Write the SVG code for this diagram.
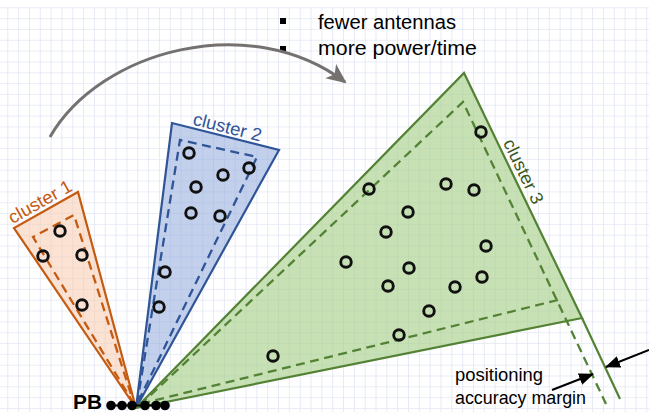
<svg xmlns="http://www.w3.org/2000/svg" width="649" height="412" viewBox="0 0 649 412">
<defs>
<pattern id="grid" patternUnits="userSpaceOnUse" x="7.3" y="7.3" width="10.83" height="10.83">
<path d="M0,0 H10.83 M0,0 V10.83" fill="none" stroke="#e3e7f5" stroke-width="1.7"/>
</pattern>
<marker id="grayhead" markerUnits="userSpaceOnUse" markerWidth="24" markerHeight="24" refX="18" refY="10" orient="auto" viewBox="0 0 24 20">
<path d="M0,1 L20,10 L0,19 L5,10 Z" fill="#767171"/>
</marker>
<marker id="blackhead" markerUnits="userSpaceOnUse" markerWidth="16" markerHeight="12" refX="14" refY="6" orient="auto" viewBox="0 0 16 12">
<path d="M0,0 L15,6 L0,12 Z" fill="#000"/>
</marker>
</defs>
<style>
.txt{font-family:"Liberation Sans",Arial,sans-serif;}
.pt{fill:none;stroke:#111;stroke-width:2.9;}
.dash{fill:none;stroke-width:2.3;stroke-dasharray:9 5.5;}
.c1{fill:#f8cbad;fill-opacity:0.55;stroke:#c55a11;stroke-width:2.2;}
.c2{fill:#8faadc;fill-opacity:0.55;stroke:#2f5597;stroke-width:2.2;}
.c3{fill:#a9d18e;fill-opacity:0.65;stroke:#548235;stroke-width:2.2;}
</style>
<rect x="0" y="0" width="649" height="412" fill="#ffffff"/>
<rect x="0" y="7" width="649" height="405" fill="url(#grid)"/>

<g id="cluster1">
<polygon class="c1" points="136,408 14,228 78,192"/>
<polyline class="dash" stroke="#c55a11" points="134,404 33,237 74,215 134,404"/>
<circle class="pt" cx="60" cy="231" r="5.3"/>
<circle class="pt" cx="43" cy="256" r="5.3"/>
<circle class="pt" cx="82" cy="255" r="5.3"/>
<circle class="pt" cx="82" cy="305" r="5.3"/>
<text class="txt" x="43" y="207" font-size="18" fill="#c55a11" text-anchor="middle" textLength="70" lengthAdjust="spacingAndGlyphs" transform="rotate(-29.4 43 207)">cluster 1</text>
</g>

<g id="cluster2">
<polygon class="c2" points="136,408 172,123 279,150"/>
<polyline class="dash" stroke="#2f5597" points="137,404 180,140 257,157 137,404"/>
<circle class="pt" cx="189" cy="153" r="5.3"/>
<circle class="pt" cx="223" cy="175" r="5.3"/>
<circle class="pt" cx="249" cy="168" r="5.3"/>
<circle class="pt" cx="196" cy="187" r="5.3"/>
<circle class="pt" cx="191" cy="213" r="5.3"/>
<circle class="pt" cx="220" cy="216" r="5.3"/>
<circle class="pt" cx="165" cy="272" r="5.3"/>
<circle class="pt" cx="159" cy="307" r="5.3"/>
<text class="txt" x="226" y="133" font-size="18" fill="#2f5597" text-anchor="middle" textLength="70" lengthAdjust="spacingAndGlyphs" transform="rotate(14.2 226 133)">cluster 2</text>
</g>

<g id="cluster3">
<polygon class="c3" points="136,408 464,73 582,318"/>
<line x1="582" y1="318" x2="620" y2="399" stroke="#548235" stroke-width="2.2"/>
<polyline class="dash" stroke="#548235" points="140,405 463,102 606,404"/>
<line class="dash" stroke="#548235" x1="558" y1="300" x2="140" y2="404"/>
<circle class="pt" cx="481" cy="132" r="5.3"/>
<circle class="pt" cx="369" cy="189" r="5.3"/>
<circle class="pt" cx="446" cy="184" r="5.3"/>
<circle class="pt" cx="474" cy="190" r="5.3"/>
<circle class="pt" cx="408" cy="212" r="5.3"/>
<circle class="pt" cx="386" cy="232" r="5.3"/>
<circle class="pt" cx="486" cy="246" r="5.3"/>
<circle class="pt" cx="346" cy="262" r="5.3"/>
<circle class="pt" cx="409" cy="268" r="5.3"/>
<circle class="pt" cx="388" cy="286" r="5.3"/>
<circle class="pt" cx="455" cy="287" r="5.3"/>
<circle class="pt" cx="482" cy="277" r="5.3"/>
<circle class="pt" cx="429" cy="311" r="5.3"/>
<circle class="pt" cx="399" cy="335" r="5.3"/>
<circle class="pt" cx="273" cy="356" r="5.3"/>
<text class="txt" x="518" y="174" font-size="18" fill="#385723" text-anchor="middle" textLength="70" lengthAdjust="spacingAndGlyphs" transform="rotate(64.3 518 174)">cluster 3</text>
</g>

<g id="pb">
<line x1="110" y1="405.5" x2="166" y2="405.5" stroke="#000" stroke-width="2"/>
<circle cx="111" cy="405.5" r="4.8" fill="#000"/>
<circle cx="122" cy="405.5" r="4.8" fill="#000"/>
<circle cx="132" cy="405.5" r="4.8" fill="#000"/>
<circle cx="145" cy="405.5" r="4.8" fill="#000"/>
<circle cx="156" cy="405.5" r="4.8" fill="#000"/>
<circle cx="165" cy="405.5" r="4.8" fill="#000"/>
<text class="txt" x="73" y="409" font-size="21" font-weight="bold" fill="#000" textLength="29" lengthAdjust="spacingAndGlyphs">PB</text>
</g>

<g id="notes">
<rect x="280" y="18" width="6" height="6" fill="#000"/>
<rect x="280" y="46" width="6" height="6" fill="#000"/>
<text class="txt" x="318" y="29" font-size="20" fill="#000" textLength="138" lengthAdjust="spacingAndGlyphs">fewer antennas</text>
<text class="txt" x="318" y="55" font-size="20" fill="#000" textLength="159" lengthAdjust="spacingAndGlyphs">more power/time</text>
<text class="txt" x="455" y="381" font-size="18" fill="#000" textLength="88" lengthAdjust="spacingAndGlyphs">positioning</text>
<text class="txt" x="455" y="404" font-size="18" fill="#000" textLength="131" lengthAdjust="spacingAndGlyphs">accuracy margin</text>
</g>

<g id="connectors">
<path d="M50,137 C100,50 250,10 345,82" fill="none" stroke="#767171" stroke-width="3" marker-end="url(#grayhead)"/>
<line x1="649" y1="350" x2="606" y2="367" stroke="#000" stroke-width="2" marker-end="url(#blackhead)"/>
<line x1="552" y1="390" x2="593" y2="374" stroke="#000" stroke-width="2" marker-end="url(#blackhead)"/>
</g>
</svg>
